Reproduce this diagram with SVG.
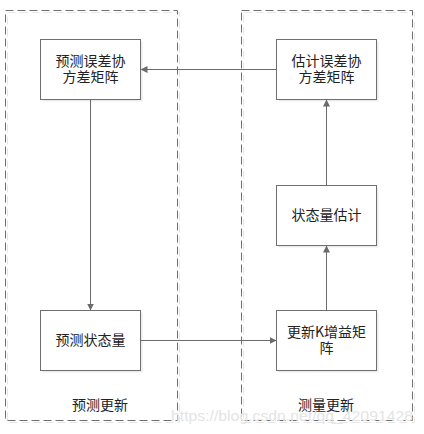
<svg xmlns="http://www.w3.org/2000/svg" width="424" height="434" viewBox="0 0 424 434">
<defs>
<marker id="arr" viewBox="0 0 10 10" refX="10" refY="5" markerWidth="7" markerHeight="7" markerUnits="userSpaceOnUse" orient="auto">
<path d="M0,0 L10,5 L0,10 Z" fill="#6b6b6b"/>
</marker>
</defs>
<style>
.grp{fill:none;stroke:#6f6f6f;stroke-width:1;stroke-dasharray:8 4}
.grpsh{fill:none;stroke:#e6e6e6;stroke-width:1;stroke-dasharray:8 4}
.box{fill:#ffffff;stroke:#6f6f6f;stroke-width:1}
.sh{fill:#ececec}
.t{font-family:"Noto Sans CJK SC","Liberation Sans",sans-serif;font-size:14px;fill:#222;text-anchor:middle}
.edge{fill:none;stroke:#6b6b6b;stroke-width:1;marker-end:url(#arr)}
.wm{font-family:"Liberation Sans",sans-serif;font-size:14px;fill:#e4e4e4}
</style>
<rect width="424" height="434" fill="#ffffff"/>
<g id="group-predict">
<rect class="grpsh" x="7.5" y="12.5" width="172" height="410"/>
<rect class="grp" x="5.5" y="10.5" width="172" height="410"/>
<text class="t" x="100" y="410">预测更新</text>
</g>
<g id="group-measure">
<rect class="grpsh" x="243.5" y="12.5" width="171" height="410"/>
<rect class="grp" x="241.5" y="10.5" width="171" height="410"/>
<text class="t" x="326" y="410">测量更新</text>
</g>
<g id="node-pred-cov">
<rect class="sh" x="42.5" y="41.5" width="100" height="60"/>
<rect class="box" x="40.5" y="39.5" width="100" height="60"/>
<text class="t" x="90.5" y="66">预测误差协<tspan x="90.5" dy="16">方差矩阵</tspan></text>
</g>
<g id="node-est-cov">
<rect class="sh" x="278.5" y="41.5" width="100" height="60"/>
<rect class="box" x="276.5" y="39.5" width="100" height="60"/>
<text class="t" x="326.5" y="66">估计误差协<tspan x="326.5" dy="16">方差矩阵</tspan></text>
</g>
<g id="node-state-est">
<rect class="sh" x="278.5" y="187.5" width="100" height="60"/>
<rect class="box" x="276.5" y="185.5" width="100" height="60"/>
<text class="t" x="326.5" y="220">状态量估计</text>
</g>
<g id="node-gain">
<rect class="sh" x="278.5" y="312.5" width="100" height="60"/>
<rect class="box" x="276.5" y="310.5" width="100" height="60"/>
<text class="t" x="326.5" y="337">更新K增益矩<tspan x="326.5" dy="16">阵</tspan></text>
</g>
<g id="node-pred-state">
<rect class="sh" x="42.5" y="312.5" width="100" height="60"/>
<rect class="box" x="40.5" y="310.5" width="100" height="60"/>
<text class="t" x="90.5" y="345">预测状态量</text>
</g>
<g id="connectors">
<path class="edge" d="M276.5,69.5 L140.5,69.5"/>
<path class="edge" d="M90.5,99.5 L90.5,310.5"/>
<path class="edge" d="M140.5,340.5 L276.5,340.5"/>
<path class="edge" d="M326.5,310.5 L326.5,245.5"/>
<path class="edge" d="M326.5,185.5 L326.5,99.5"/>
</g>
<text class="wm" x="171" y="421" textLength="242" lengthAdjust="spacingAndGlyphs">https://blog.csdn.net/qq_42091428</text>
</svg>
